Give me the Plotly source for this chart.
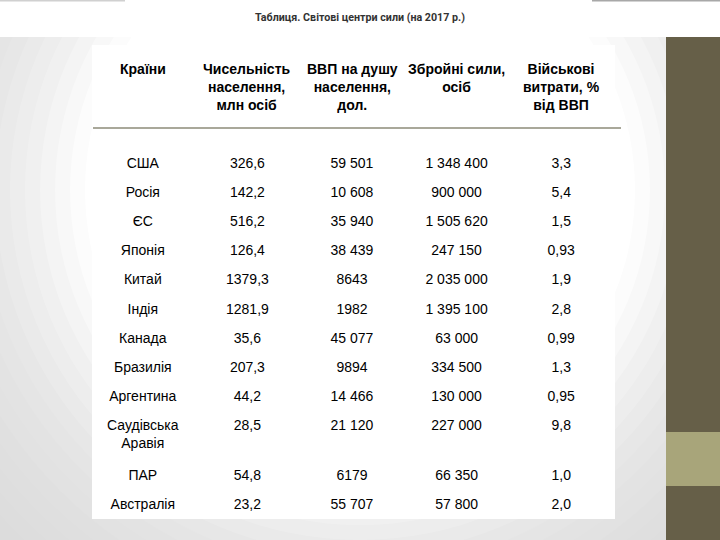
import numpy as np
import plotly.graph_objects as go

# ---- data ----
countries = ["США", "Росія", "ЄС", "Японія", "Китай", "Індія", "Канада",
             "Бразилія", "Аргентина", "Саудівська<br>Аравія", "ПАР", "Австралія"]
population = ["326,6", "142,2", "516,2", "126,4", "1379,3", "1281,9", "35,6",
              "207,3", "44,2", "28,5", "54,8", "23,2"]
gdp_per_capita = ["59 501", "10 608", "35 940", "38 439", "8643", "1982", "45 077",
                  "9894", "14 466", "21 120", "6179", "55 707"]
armed_forces = ["1 348 400", "900 000", "1 505 620", "247 150", "2 035 000", "1 395 100",
                "63 000", "334 500", "130 000", "227 000", "66 350", "57 800"]
military_spending = ["3,3", "5,4", "1,5", "0,93", "1,9", "2,8", "0,99", "1,3",
                     "0,95", "9,8", "1,0", "2,0"]
headers = ["Країни", "Чисельність<br>населення,<br>млн осіб",
           "ВВП на душу<br>населення,<br>дол.", "Збройні сили,<br>осіб",
           "Військові<br>витрати, %<br>від ВВП"]
title_text = "Таблиця. Світові центри сили (на 2017 р.)"

W, H = 720, 540
ROW_PX = 29.1           # height of a one-line row
EXTRA_LINE = 21 / 29.1  # extra height (in row units) for each additional line
FIRST_ROW_TOP = 157.5   # pixel y of the first row's text anchor
FONT = "Liberation Sans, Arial, sans-serif"

def px(x):
    return x / W
def py(y):
    return 1 - y / H

# row positions derived from the number of lines in each row
row_pos = []
pos = 0.0
for c in countries:
    row_pos.append(pos)
    pos += 1 + EXTRA_LINE * c.count("<br>")

columns = [countries, population, gdp_per_capita, armed_forces, military_spending]

fig = go.Figure()
for i, col in enumerate(columns):
    fig.add_trace(go.Scatter(
        x=[headers[i]] * len(col), y=row_pos, text=col,
        mode="text", textposition="bottom center",
        textfont=dict(family=FONT, size=14, color="#000000"),
        hoverinfo="skip", showlegend=False,
    ))

annotations = []
for h in headers:
    annotations.append(dict(text=f"<b>{h}</b>", xref="x", yref="paper", x=h, y=py(59),
                            xanchor="center", yanchor="top", showarrow=False, align="center",
                            font=dict(family=FONT, size=14, color="#000000")))
annotations.append(dict(text=f"<b>{title_text}</b>", xref="paper", yref="paper",
                        x=0.5, y=py(18), xanchor="center", yanchor="middle", showarrow=False,
                        font=dict(family="Roboto, sans-serif", size=10.7, color="#333333")))

shapes = []
# background vignette (radial, light gray at the edges to white)
BASE_GRAY = "#dcdcdc"
shapes.append(dict(type="rect", xref="paper", yref="paper", x0=0, x1=1, y0=0, y1=1,
                   fillcolor=BASE_GRAY, line=dict(width=0), layer="below"))
cx, cy = 360, 190
radii = np.arange(500, 260, -15)
prev = 1.0
for r in radii:
    target = float(np.interp(r - 7, [270, 370, 490], [0.0, 0.6, 1.0]))
    target = max(target, 1e-3)
    alpha = 1 - target / prev
    prev = target
    shapes.append(dict(type="circle", xref="paper", yref="paper",
                       x0=px(cx - r), x1=px(cx + r), y0=py(cy + r), y1=py(cy - r),
                       fillcolor="white", opacity=max(0.0, min(1.0, alpha)),
                       line=dict(width=0), layer="below"))
shapes.append(dict(type="circle", xref="paper", yref="paper",
                   x0=px(cx - 262), x1=px(cx + 262), y0=py(cy + 262), y1=py(cy - 262),
                   fillcolor="white", line=dict(width=0), layer="below"))
# top white band
shapes.append(dict(type="rect", xref="paper", yref="paper", x0=0, x1=1, y0=py(37), y1=1,
                   fillcolor="white", line=dict(width=0), layer="below"))
shapes.append(dict(type="line", xref="paper", yref="paper", x0=0, x1=px(125), y0=py(0.7), y1=py(0.7),
                   line=dict(color="#d0d0d0", width=1.5), layer="below"))
shapes.append(dict(type="line", xref="paper", yref="paper", x0=px(592), x1=1, y0=py(0.7), y1=py(0.7),
                   line=dict(color="#a8a8a8", width=1.5), layer="below"))
# white table panel
shapes.append(dict(type="rect", xref="paper", yref="paper", x0=px(92), x1=px(615), y0=py(519), y1=py(45),
                   fillcolor="white", line=dict(width=0), layer="below"))
# right strip
shapes.append(dict(type="rect", xref="paper", yref="paper", x0=px(666), x1=1, y0=0, y1=py(37),
                   fillcolor="#665f48", line=dict(width=0), layer="below"))
shapes.append(dict(type="rect", xref="paper", yref="paper", x0=px(666), x1=1, y0=py(486), y1=py(432),
                   fillcolor="#a8a57a", line=dict(width=0), layer="below"))
# header separator line
shapes.append(dict(type="line", xref="paper", yref="paper", x0=px(93), x1=px(621), y0=py(128), y1=py(128),
                   line=dict(color="#a9a89a", width=2), layer="below"))

y_top = (0 - FIRST_ROW_TOP) / ROW_PX
y_bottom = (H - FIRST_ROW_TOP) / ROW_PX

fig.update_layout(
    width=W, height=H,
    margin=dict(l=0, r=0, t=0, b=0),
    paper_bgcolor="white",
    plot_bgcolor="rgba(0,0,0,0)",
    shapes=shapes,
    annotations=annotations,
    xaxis=dict(visible=False, type="category", range=[-0.5, 4.5],
               domain=[px(90.5), px(613.5)], fixedrange=True),
    yaxis=dict(visible=False, range=[y_bottom, y_top], domain=[0, 1], fixedrange=True),
)

fig.write_html("out.html", config={"displayModeBar": False},
               post_script="document.body.style.margin='0';document.body.style.overflow='hidden';")
